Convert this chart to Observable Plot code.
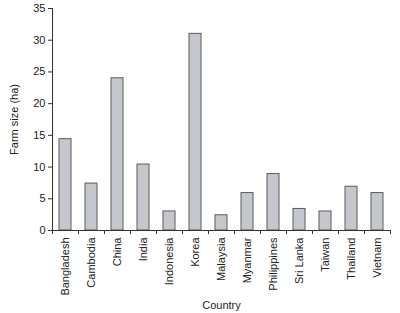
<!DOCTYPE html>
<html>
<head>
<meta charset="utf-8">
<script src="https://cdn.jsdelivr.net/npm/d3@7"></script>
<script src="https://cdn.jsdelivr.net/npm/@observablehq/plot@0.6"></script>
<style>
  html, body { margin: 0; padding: 0; background: #fff; }
  svg { font-family: "Liberation Sans", Arial, sans-serif; }
</style>
</head>
<body>
<div id="chart"></div>
<script>
const countries = ["Bangladesh", "Cambodia", "China", "India", "Indonesia", "Korea", "Malaysia", "Myanmar", "Philippines", "Sri Lanka", "Taiwan", "Thailand", "Vietnam"];
const farmSize = [14.4, 7.4, 24.0, 10.4, 3.0, 31.0, 2.4, 5.9, 8.9, 3.4, 3.0, 6.9, 5.9];
const yTicks = [0, 5, 10, 15, 20, 25, 30, 35];

const data = countries.map((c, i) => ({country: c, size: farmSize[i]}));

const width = 400, height = 313;
const marginLeft = 52, marginRight = 10, marginTop = 8, marginBottom = 83;
const step = (width - marginLeft - marginRight) / countries.length;

const chart = Plot.plot({
  width, height, marginLeft, marginRight, marginTop, marginBottom,
  style: {fontFamily: "Liberation Sans, Arial, sans-serif", color: "#222", background: "#fff"},
  x: {domain: countries, paddingInner: 0.54, paddingOuter: 0.27},
  y: {domain: [0, 35]},
  marks: [
    Plot.barY(data, {x: "country", y: "size", fill: "#c4c8cc", stroke: "#5a5a5a", strokeWidth: 1}),
    Plot.ruleY([0], {stroke: "#333"}),
    Plot.frame({anchor: "left", stroke: "#333"}),
    Plot.axisY({ticks: yTicks, tickSize: 4, tickPadding: 3, fontSize: 11, stroke: "#333",
      label: "Farm size (ha)", labelAnchor: "center", labelOffset: 42, labelArrow: "none"}),
    Plot.axisX({tickRotate: -90, tickSize: 0, tickPadding: 7, fontSize: 11,
      label: "Country", labelAnchor: "center", labelOffset: 78, labelArrow: "none"}),
    Plot.axisX({ticks: countries, tickSize: 4, dx: -step / 2, tickFormat: () => "", label: null, stroke: "#333"}),
    Plot.axisX({ticks: [countries[countries.length - 1]], tickSize: 4, dx: step / 2, tickFormat: () => "", label: null, stroke: "#333"})
  ]
});
document.getElementById("chart").appendChild(chart);
</script>
</body>
</html>
